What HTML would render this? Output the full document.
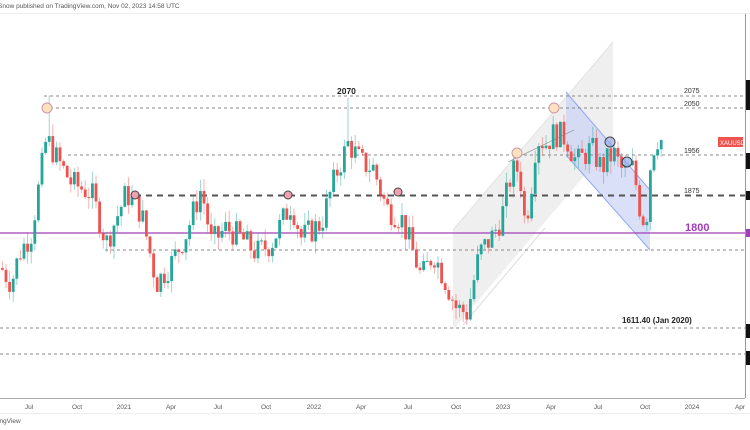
<!DOCTYPE html>
<html><head><meta charset="utf-8"><style>
html,body{margin:0;padding:0;background:#fff;width:750px;height:430px;overflow:hidden;font-family:"Liberation Sans",sans-serif}
</style></head><body>
<svg id="s" width="750" height="430" xmlns="http://www.w3.org/2000/svg" font-family="Liberation Sans, sans-serif">
<text x="-2" y="8" font-size="6.5" fill="#555">Snow published on TradingView.com, Nov 02, 2023 14:58 UTC</text>
<line x1="0" y1="13.5" x2="750" y2="13.5" stroke="#eee"/>
<polygon points="453,230 613,42 613,142 453,330" fill="#ebebeb" fill-opacity="0.8"/>
<line x1="453" y1="230" x2="613" y2="42" stroke="#e2e2e2"/>
<line x1="463" y1="325" x2="545" y2="228" stroke="#ddd"/>
<polygon points="566,92 650,190 650,250 566,155" fill="#c9d3f3" fill-opacity="0.7"/>
<line x1="566" y1="92" x2="650" y2="190" stroke="#90a8f0"/>
<line x1="566" y1="155" x2="650" y2="250" stroke="#90a8f0"/>
<line x1="508" y1="162" x2="574" y2="130" stroke="#888" stroke-width="0.6"/>
<g stroke="#888" stroke-dasharray="3,3" stroke-width="1">
<line x1="44" y1="96" x2="745" y2="96"/>
<line x1="44" y1="108" x2="745" y2="108"/>
<line x1="68" y1="155" x2="745" y2="155"/>
<line x1="105" y1="250" x2="745" y2="250"/>
<line x1="0" y1="328" x2="745" y2="328"/>
<line x1="0" y1="354" x2="745" y2="354"/>
</g>
<line x1="135" y1="195.5" x2="745" y2="195.5" stroke="#555" stroke-width="2" stroke-dasharray="6,5"/>
<line x1="0" y1="233" x2="745" y2="233" stroke="#a23db8" stroke-width="1.2"/>
<g id="c"></g>
<g stroke="#444" stroke-width="1">
<circle cx="47" cy="108" r="5" fill="#fde2bd" stroke="#c9a" /><circle cx="517" cy="153" r="5" fill="#fde2bd" stroke="#c9a"/><circle cx="554" cy="108" r="5" fill="#fde2bd" stroke="#c9a"/>
<circle cx="135" cy="195" r="4" fill="#f0a0b0"/><circle cx="288" cy="195" r="4" fill="#f0a0b0"/><circle cx="398" cy="192" r="4" fill="#f0a0b0"/>
<circle cx="610" cy="142" r="5" fill="#8fa8ef" fill-opacity="0.6"/><circle cx="627" cy="162" r="5" fill="#8fa8ef" fill-opacity="0.6"/>
</g>
<g font-size="7" fill="#333">
<text x="684" y="93">2075</text><text x="684" y="106">2050</text><text x="684" y="153">1956</text><text x="684" y="193">1875</text>
</g>
<text x="337" y="94" font-size="8.5" font-weight="bold" fill="#222">2070</text>
<text x="685" y="231" font-size="11" font-weight="bold" fill="#a23db8">1800</text>
<text x="622" y="323" font-size="8" font-weight="bold" fill="#222">1611.40 (Jan 2020)</text>
<rect x="718" y="137" width="25" height="10" fill="#ef5350"/><text x="720" y="145" font-size="6" fill="#fff">XAUUSD</text>
<line x1="745.5" y1="14" x2="745.5" y2="398" stroke="#999"/>
<rect x="746" y="80" width="4" height="30" fill="#111"/><rect x="746" y="153" width="4" height="16" fill="#111"/><rect x="746" y="191" width="4" height="9" fill="#111"/><rect x="746" y="229" width="4" height="8" fill="#a23db8"/><rect x="746" y="324" width="4" height="14" fill="#111"/><rect x="746" y="351" width="4" height="14" fill="#111"/>
<line x1="0" y1="398.5" x2="745" y2="398.5" stroke="#aaa"/>
<line x1="0" y1="413.5" x2="750" y2="413.5" stroke="#eee"/>
<g font-size="6.5" fill="#555" text-anchor="middle">
<text x="29" y="409">Jul</text><text x="77" y="409">Oct</text><text x="124" y="409">2021</text><text x="171" y="409">Apr</text><text x="218" y="409">Jul</text><text x="266" y="409">Oct</text><text x="314" y="409">2022</text><text x="361" y="409">Apr</text><text x="408" y="409">Jul</text><text x="456" y="409">Oct</text><text x="503" y="409">2023</text><text x="551" y="409">Apr</text><text x="598" y="409">Jul</text><text x="645" y="409">Oct</text><text x="692" y="409">2024</text><text x="740" y="409">Apr</text>
</g>
<text x="-2" y="423" font-size="6.5" fill="#555">ingView</text>
</svg>
<script>
var wp=[[0,1730],[10,1700],[18,1760],[30,1800],[38,1900],[45,1990],[55,1950],[70,1900],[90,1880],[105,1780],[125,1880],[140,1840],[155,1700],[170,1740],[185,1800],[200,1890],[210,1780],[225,1810],[240,1790],[255,1760],[270,1780],[290,1860],[300,1790],[320,1820],[335,1920],[347,1980],[360,1940],[372,1930],[385,1850],[400,1830],[412,1760],[420,1710],[432,1760],[445,1700],[455,1650],[466,1640],[478,1760],[490,1790],[500,1830],[510,1920],[518,1930],[523,1830],[528,1860],[535,1990],[545,1980],[553,2000],[565,1990],[575,1940],[590,1970],[600,1930],[612,1960],[622,1920],[632,1930],[640,1830],[645,1830],[650,1960],[656,1990],[660,1985]];
function val(x){for(var i=1;i<wp.length;i++)if(x<=wp[i][0]){var a=wp[i-1],b=wp[i];return a[1]+(b[1]-a[1])*(x-a[0])/(b[0]-a[0]);}return wp[wp.length-1][1];}
var seed=7;function r(){seed=(seed*9301+49297)%233280;return seed/233280;}
function Y(p){return 108+(2050-p)*0.5;}
var g=document.getElementById('c'),h='',prev=val(0);
var spikes={47:2075,347:2070,568:2085};
for(var x=1;x<=660;x+=3.6){var c=val(x)+(r()-0.5)*55;var o=prev;var hi=Math.max(o,c)+r()*25,lo=Math.min(o,c)-r()*25;
var xi=Math.round(x);for(var k in spikes){if(Math.abs(k-xi)<2)hi=spikes[k];}
var up=c>=o,col=up?'#26a69a':'#ef5350';
h+='<line x1="'+(x+1.4)+'" y1="'+Y(hi)+'" x2="'+(x+1.4)+'" y2="'+Y(lo)+'" stroke="'+col+'" stroke-opacity="0.5" stroke-width="0.9"/>';
var t=Y(Math.max(o,c)),bh=Math.max(1,Math.abs(Y(o)-Y(c)));
h+='<rect x="'+x+'" y="'+t+'" width="2.8" height="'+bh+'" fill="'+col+'"/>';prev=c;}
g.innerHTML=h;
</script>
</body></html>
